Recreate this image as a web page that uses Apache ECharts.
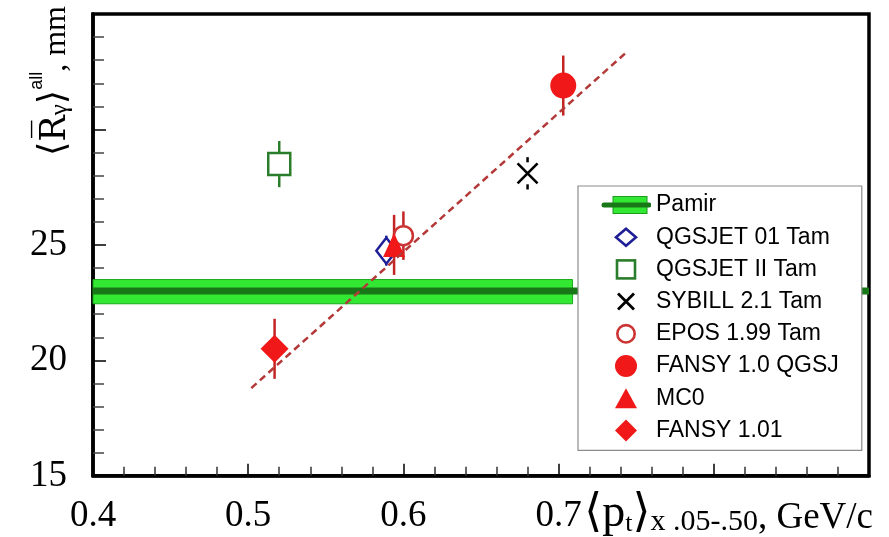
<!DOCTYPE html>
<html><head><meta charset="utf-8">
<script src="https://cdn.jsdelivr.net/npm/echarts@6/dist/echarts.min.js"></script>
<style>html,body{margin:0;padding:0;background:#fff}#c{width:889px;height:537px}</style>
</head><body><div id="c"></div>
<script>
// ---- data ----
const xTickLabels = ['0.4', '0.5', '0.6', '0.7'];
const yTickLabels = ['15', '20', '25'];
const modelNames = ['QGSJET 01 Tam', 'QGSJET II Tam', 'SYBILL 2.1 Tam', 'EPOS 1.99 Tam', 'FANSY 1.0 QGSJ', 'MC0', 'FANSY 1.01'];
const modelX = [0.589, 0.520, 0.680, 0.600, 0.703, 0.594, 0.517];
const modelY = [24.75, 28.5, 28.1, 25.4, 31.9, 25.0, 20.5];
const modelErr = [0.65, 1.0, 0.7, 1.05, 1.3, 1.3, 1.3];
const pamirName = 'Pamir';
const pamirX = [0.4, 0.9];
const pamirY = [23.0, 23.0];
const pamirBandX = [0.4, 0.709];
const pamirBandY = [22.45, 23.5];
const fitX = [0.502, 0.743];
const fitY = [18.8, 33.3];
// draw order of markers (later on top)
const drawOrder = ['QGSJET II Tam', 'SYBILL 2.1 Tam', 'FANSY 1.0 QGSJ', 'FANSY 1.01', 'EPOS 1.99 Tam', 'QGSJET 01 Tam', 'MC0'];

// ---- styles ----
const RED = '#f01818', REDBAR = '#c42424';
const style = {
  'QGSJET 01 Tam': {symbol: 'diamond', size: [20, 26], fill: '#ffffff', stroke: '#1e1e96', bw: 2.5, bar: '#1e1e96', gap: 13,
    svg: "<polygon points='25,3.5 35,12 25,20.5 15,12' fill='none' stroke='#1e1e96' stroke-width='2.6'/>"},
  'QGSJET II Tam': {symbol: 'rect', size: 22, fill: '#ffffff', stroke: '#2a7d2a', bw: 2.5, bar: '#2a7d2a', gap: 12,
    svg: "<rect x='16' y='3' width='18' height='18' fill='none' stroke='#2a7d2a' stroke-width='2.6'/>"},
  'SYBILL 2.1 Tam': {symbol: 'path://M0,0L10,10M10,0L0,10', size: 20, fill: 'rgba(0,0,0,0)', stroke: '#000000', bw: 2.6, bar: '#000000', gap: 11,
    svg: "<path d='M17,4L33,20M33,4L17,20' stroke='#000' stroke-width='2.8' fill='none'/>"},
  'EPOS 1.99 Tam': {symbol: 'circle', size: 19, fill: '#ffffff', stroke: '#cc3333', bw: 2.5, bar: REDBAR, gap: 10,
    svg: "<circle cx='25' cy='12' r='8.7' fill='none' stroke='#cc3333' stroke-width='2.6'/>"},
  'FANSY 1.0 QGSJ': {symbol: 'circle', size: 26, fill: RED, stroke: RED, bw: 0, bar: REDBAR, gap: 0,
    svg: "<circle cx='25' cy='12' r='11' fill='" + RED + "'/>"},
  'MC0': {symbol: 'triangle', size: [22, 24], fill: RED, stroke: RED, bw: 0, bar: REDBAR, gap: 0,
    svg: "<polygon points='25,2 36,22 14,22' fill='" + RED + "'/>"},
  'FANSY 1.01': {symbol: 'diamond', size: 28, fill: RED, stroke: RED, bw: 0, bar: REDBAR, gap: 0,
    svg: "<polygon points='25,1 36,12 25,23 14,12' fill='" + RED + "'/>"}
};
const SERIF = '"Liberation Serif", "DejaVu Serif", serif';
const SANS = '"Liberation Sans", Arial, sans-serif';

function svgIcon(inner) {
  const s = "<svg xmlns='http://www.w3.org/2000/svg' width='50' height='24'>" + inner + "</svg>";
  return 'image://data:image/svg+xml;charset=utf-8,' + encodeURIComponent(s);
}
const pamirIcon = svgIcon(
  "<rect x='12' y='3.5' width='34' height='17' fill='#33e833' stroke='#1c9c1c' stroke-width='1'/>" +
  "<line x1='3' y1='12' x2='48' y2='12' stroke='#187818' stroke-width='5' stroke-linecap='round'/>");

const chart = echarts.init(document.getElementById('c'), null, {renderer: 'canvas'});

const series = [];
// Pamir band
series.push({
  type: 'custom', name: pamirName + ' band', silent: true,
  data: [[pamirBandX[0], pamirBandX[1], pamirBandY[0], pamirBandY[1]]],
  encode: {x: [0, 1], y: [2, 3]},
  renderItem: function (params, api) {
    const p0 = api.coord([api.value(0), api.value(3)]);
    const p1 = api.coord([api.value(1), api.value(2)]);
    return {type: 'rect', shape: {x: p0[0], y: p0[1], width: p1[0] - p0[0], height: p1[1] - p0[1]},
      style: {fill: '#33e833', stroke: '#1ca81c', lineWidth: 1}};
  }
});
// Pamir central line
series.push({
  type: 'line', name: pamirName, data: pamirX.map((x, i) => [x, pamirY[i]]),
  showSymbol: false, symbol: 'none', silent: true, clip: false,
  lineStyle: {color: '#187818', width: 7}, itemStyle: {color: '#187818'}
});
// fit line
series.push({
  type: 'line', name: 'fit', data: fitX.map((x, i) => [x, fitY[i]]),
  showSymbol: false, symbol: 'none', silent: true,
  lineStyle: {color: '#b43838', width: 2.5, type: [7, 4.5]}
});
// error bars
series.push({
  type: 'custom', name: 'errors', silent: true,
  data: modelNames.map((n, i) => [modelX[i], modelY[i], modelErr[i], i]),
  encode: {x: 0, y: 1},
  renderItem: function (params, api) {
    const i = api.value(3);
    const st = style[modelNames[i]];
    const x = api.value(0), y = api.value(1), e = api.value(2);
    const t = api.coord([x, y + e]), m = api.coord([x, y]), b = api.coord([x, y - e]);
    const ls = {stroke: st.bar, lineWidth: 2.5};
    return {type: 'group', children: [
      {type: 'line', shape: {x1: t[0], y1: t[1], x2: m[0], y2: m[1] - st.gap}, style: ls},
      {type: 'line', shape: {x1: m[0], y1: m[1] + st.gap, x2: b[0], y2: b[1]}, style: ls}
    ]};
  }
});
// markers
drawOrder.forEach(function (n) {
  const i = modelNames.indexOf(n);
  const st = style[n];
  series.push({
    type: 'scatter', name: n, data: [[modelX[i], modelY[i]]],
    symbol: st.symbol, symbolSize: st.size,
    itemStyle: {color: st.fill, borderColor: st.stroke, borderWidth: st.bw, opacity: 1}
  });
});

const legendData = [{name: pamirName, icon: pamirIcon}].concat(modelNames.map(function (n) {
  return {name: n, icon: svgIcon(style[n].svg)};
}));

chart.setOption({
  animation: false,
  backgroundColor: '#ffffff',
  grid: {left: 93, right: 20, top: 14, bottom: 59, show: true, borderColor: '#000', borderWidth: 3.5, containLabel: false},
  legend: {
    data: legendData, orient: 'vertical', left: 578, top: 186,
    padding: [7, 23, 8, 23], itemWidth: 50, itemHeight: 24, itemGap: 8.2,
    backgroundColor: '#ffffff', borderColor: '#8c8c8c', borderWidth: 1.2, borderRadius: 0,
    selectedMode: false, symbolKeepAspect: true,
    textStyle: {fontFamily: SANS, fontSize: 23, color: '#000'}
  },
  xAxis: {
    type: 'value', min: 0.4, max: 0.9, interval: 0.1,
    axisLine: {show: true, onZero: false, lineStyle: {color: '#000', width: 3.5}},
    axisTick: {show: true, inside: true, length: 12, lineStyle: {color: '#000', width: 1.5}},
    minorTick: {show: true, splitNumber: 5, length: 9, lineStyle: {color: '#333', width: 1.5}},
    splitLine: {show: false},
    axisLabel: {margin: 22, fontFamily: SERIF, fontSize: 37, color: '#000',
      formatter: function (v) { const s = v.toFixed(1); return xTickLabels.indexOf(s) >= 0 ? s : ''; }},
    name: '{m|\u27E8p}{t|t}{m|\u27E9}{s|x .05-.50}{e|, GeV/c}',
    nameLocation: 'end', nameGap: 4, nameMoveOverlap: false,
    nameTextStyle: {
      align: 'right', verticalAlign: 'top', padding: [10, 0, 0, 0], color: '#000',
      rich: {
        m: {fontFamily: SERIF, fontSize: 46, lineHeight: 51.2, verticalAlign: 'bottom', color: '#000'},
        t: {fontFamily: SERIF, fontSize: 26, lineHeight: 33.6, verticalAlign: 'bottom', color: '#000'},
        s: {fontFamily: SERIF, fontSize: 30, lineHeight: 30.4, verticalAlign: 'bottom', color: '#000'},
        e: {fontFamily: SERIF, fontSize: 37, lineHeight: 45, verticalAlign: 'bottom', color: '#000'}
      }
    }
  },
  yAxis: {
    type: 'value', min: 15, max: 35, interval: 5,
    axisLine: {show: true, onZero: false, lineStyle: {color: '#000', width: 3.5}},
    axisTick: {show: true, inside: true, length: 13, lineStyle: {color: '#000', width: 1.5}},
    minorTick: {show: true, splitNumber: 5, length: 11, lineStyle: {color: '#444', width: 1.5}},
    splitLine: {show: false},
    axisLabel: {margin: 26, fontFamily: SERIF, fontSize: 37, color: '#000',
      formatter: function (v) { const s = String(v); return yTickLabels.indexOf(s) >= 0 ? s : ''; }},
    name: '{m|\u27E8}{r|R\u0305}{g|\u03B3}{m|\u27E9}{a|all}{e|, mm}',
    nameLocation: 'end', nameRotate: 90, nameGap: 8, nameMoveOverlap: false,
    nameTextStyle: {
      align: 'right', verticalAlign: 'bottom', padding: [0, 0, 20, 0], color: '#000',
      rich: {
        m: {fontFamily: SERIF, fontSize: 37, lineHeight: 45, verticalAlign: 'bottom', color: '#000'},
        r: {fontFamily: '"DejaVu Serif", serif', fontSize: 35, lineHeight: 44.2, verticalAlign: 'bottom', color: '#000'},
        g: {fontFamily: SERIF, fontSize: 25, lineHeight: 25, verticalAlign: 'bottom', color: '#000'},
        a: {fontFamily: SANS, fontSize: 18, lineHeight: 34, verticalAlign: 'top', color: '#000'},
        e: {fontFamily: SERIF, fontSize: 32, lineHeight: 41.8, verticalAlign: 'bottom', color: '#000'}
      }
    }
  },
  series: series
});
</script></body></html>
